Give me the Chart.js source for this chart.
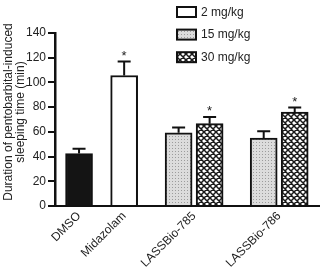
<!DOCTYPE html>
<html><head><meta charset="utf-8">
<script src="https://cdn.jsdelivr.net/npm/chart.js@4"></script>
<style>html,body{margin:0;padding:0;background:#fff}#wrap{width:320px;height:267px;position:relative}</style>
</head><body><div id="wrap"><canvas id="c"></canvas></div>
<script>
// ---- data ----
const categories = ['DMSO', 'Midazolam', 'LASSBio-785', 'LASSBio-786'];
const seriesNames = ['DMSO', '2 mg/kg', '15 mg/kg', '30 mg/kg'];
const vehicleValues = [42.4, null, null, null];
const vehicleErrors = [4.0, null, null, null];
const dose2Values = [null, 105.6, null, null];
const dose2Errors = [null, 11.3, null, null];
const dose15Values = [null, null, 59.3, 55.0];
const dose15Errors = [null, null, 4.3, 5.4];
const dose30Values = [null, null, 66.6, 76.0];
const dose30Errors = [null, null, 5.4, 3.7];
const vehicleStars = [false, false, false, false];
const dose2Stars = [false, true, false, false];
const dose15Stars = [false, false, false, false];
const dose30Stars = [false, false, true, true];
const yTickValues = [0, 20, 40, 60, 80, 100, 120, 140];
const yTitleLines = ['Duration of pentobarbital-induced', 'sleeping time (min)'];

// ---- layout (x scale in units of one bar width) ----
const groupCenters = [0.89, 2.56, 5.15, 8.3];
const seriesOffsets = [0, 0, -0.574, 0.574];
const xMax = 9.81;
const FONT = '"Liberation Sans", Arial, sans-serif';

const canvas = document.getElementById('c');
const ctx = canvas.getContext('2d');

function dotPattern() {
  const c = document.createElement('canvas'); c.width = 3; c.height = 3;
  const g = c.getContext('2d');
  g.fillStyle = '#dcdcdc'; g.fillRect(0, 0, 3, 3);
  g.fillStyle = '#9c9c9c'; g.fillRect(1, 1, 1, 1);
  return ctx.createPattern(c, 'repeat');
}
function hatchPattern() {
  const s = 6;
  const c = document.createElement('canvas'); c.width = s; c.height = s;
  const g = c.getContext('2d');
  g.fillStyle = '#fff'; g.fillRect(0, 0, s, s);
  g.strokeStyle = '#1a1a1a'; g.lineWidth = 1.5;
  g.beginPath();
  for (let k = -s; k <= s; k += s) {
    g.moveTo(k - 1, -1); g.lineTo(k + s + 1, s + 1);
    g.moveTo(k - 1, s + 1); g.lineTo(k + s + 1, -1);
  }
  g.stroke();
  return ctx.createPattern(c, 'repeat');
}
const fills = ['#141414', '#ffffff', dotPattern(), hatchPattern()];

function makeDataset(si, values, errors, stars) {
  const data = [], errs = [], st = [];
  values.forEach((v, i) => {
    if (v === null) return;
    data.push({ x: groupCenters[i] + seriesOffsets[si], y: v });
    errs.push(errors[i]); st.push(stars[i]);
  });
  return {
    label: seriesNames[si], data, errorBars: errs, stars: st,
    backgroundColor: fills[si], borderColor: '#111', borderWidth: 2,
    borderSkipped: 'bottom', grouped: false, barThickness: 27
  };
}
const datasets = [
  makeDataset(0, vehicleValues, vehicleErrors, vehicleStars),
  makeDataset(1, dose2Values, dose2Errors, dose2Stars),
  makeDataset(2, dose15Values, dose15Errors, dose15Stars),
  makeDataset(3, dose30Values, dose30Errors, dose30Stars)
];

const errorBarPlugin = {
  id: 'errorBars',
  afterDatasetsDraw(chart) {
    const c = chart.ctx, ys = chart.scales.y;
    c.save();
    c.strokeStyle = '#111'; c.lineWidth = 2; c.fillStyle = '#222';
    chart.data.datasets.forEach((ds, di) => {
      const meta = chart.getDatasetMeta(di);
      meta.data.forEach((el, i) => {
        const raw = ds.data[i];
        const yTop = ys.getPixelForValue(raw.y + ds.errorBars[i]);
        c.beginPath();
        c.moveTo(el.x, el.y); c.lineTo(el.x, yTop);
        c.moveTo(el.x - 6.5, yTop); c.lineTo(el.x + 6.5, yTop);
        c.stroke();
        if (ds.stars[i]) {
          c.font = '13px ' + FONT; c.textAlign = 'center'; c.textBaseline = 'alphabetic';
          c.fillText('*', el.x, yTop - 2);
        }
      });
    });
    c.restore();
  }
};

const legendPlugin = {
  id: 'boxLegend',
  afterDraw(chart) {
    const c = chart.ctx;
    c.save();
    const items = [1, 2, 3];
    items.forEach((si, k) => {
      const y = 7 + k * 22.6;
      c.fillStyle = fills[si];
      c.fillRect(177, y, 19, 10);
      c.strokeStyle = '#111'; c.lineWidth = 2;
      c.strokeRect(177, y, 19, 10);
      c.fillStyle = '#222'; c.font = '12px ' + FONT;
      c.textAlign = 'left'; c.textBaseline = 'middle';
      c.fillText(seriesNames[si], 201, y + 5.5);
    });
    c.restore();
  }
};

const yTitlePlugin = {
  id: 'yTitle',
  afterDraw(chart) {
    const c = chart.ctx;
    c.save();
    c.fillStyle = '#222'; c.font = '12px ' + FONT;
    c.textAlign = 'center'; c.textBaseline = 'middle';
    yTitleLines.forEach((t, k) => {
      c.save();
      c.translate(8.5 + k * 12, 112);
      c.rotate(-Math.PI / 2);
      c.fillText(t, 0, 0);
      c.restore();
    });
    c.restore();
  }
};

new Chart(canvas, {
  type: 'bar',
  data: { datasets },
  options: {
    responsive: true, maintainAspectRatio: false, animation: false,
    layout: { padding: { top: 33, right: 0, left: 0, bottom: 0 } },
    plugins: { legend: { display: false }, tooltip: { enabled: false } },
    scales: {
      x: {
        type: 'linear', min: 0, max: xMax, offset: false,
        afterBuildTicks: s => { s.ticks = groupCenters.map(v => ({ value: v })); },
        afterFit: s => { s.height = 61; },
        ticks: {
          autoSkip: false, minRotation: 45, maxRotation: 45, padding: 3,
          color: '#222', font: { family: FONT, size: 12 },
          callback: (v, i) => categories[i]
        },
        grid: { display: true, drawOnChartArea: false, drawTicks: false },
        border: { display: true, color: '#111', width: 2 }
      },
      y: {
        min: 0, max: 140,
        afterBuildTicks: s => { s.ticks = yTickValues.map(v => ({ value: v })); },
        afterFit: s => { s.width = 55; },
        ticks: { color: '#222', font: { family: FONT, size: 12 }, padding: 2 },
        grid: { display: true, drawOnChartArea: false, drawTicks: true, tickLength: 7, color: '#111', lineWidth: 2 },
        border: { display: true, color: '#111', width: 2.5 }
      }
    }
  },
  plugins: [errorBarPlugin, legendPlugin, yTitlePlugin]
});
</script></body></html>
